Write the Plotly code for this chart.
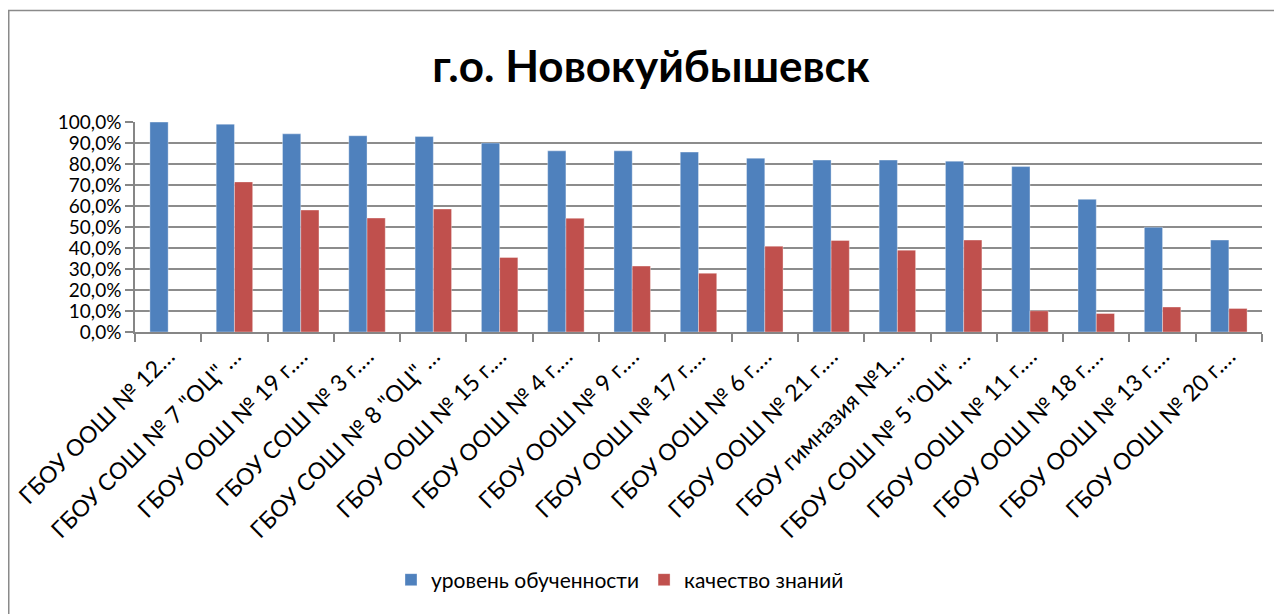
import plotly.graph_objects as go

FONT = 'Lato'
BLUE = '#4F81BD'
RED = '#C0504D'

schools = [
    'ГБОУ ООШ № 12…', 'ГБОУ СОШ № 7 "ОЦ" …', 'ГБОУ ООШ № 19 г.…',
    'ГБОУ СОШ № 3 г.…', 'ГБОУ СОШ № 8 "ОЦ" …', 'ГБОУ ООШ № 15 г.…',
    'ГБОУ ООШ № 4 г.…', 'ГБОУ ООШ № 9 г.…', 'ГБОУ ООШ № 17 г.…',
    'ГБОУ ООШ № 6 г.…', 'ГБОУ ООШ № 21 г.…', 'ГБОУ гимназия №1…',
    'ГБОУ СОШ № 5 "ОЦ" …', 'ГБОУ ООШ № 11 г.…', 'ГБОУ ООШ № 18 г.…',
    'ГБОУ ООШ № 13 г.…', 'ГБОУ ООШ № 20 г.…',
]
level = [1.000, 0.990, 0.944, 0.935, 0.931, 0.900, 0.863, 0.863, 0.857,
         0.828, 0.819, 0.819, 0.814, 0.788, 0.632, 0.499, 0.438]
quality = [None, 0.715, 0.581, 0.543, 0.586, 0.355, 0.542, 0.314, 0.280,
           0.409, 0.436, 0.390, 0.438, 0.101, 0.088, 0.119, 0.112]

# the page body adds an 8px margin, so the figure is 8px smaller than the window
W, H = 1274, 606
# plot area in figure pixels
L, R, T, B = 127, 1254, 114, 324
pw, ph = R - L, B - T

fig = go.Figure()
fig.add_trace(go.Bar(
    x=schools, y=level, name='уровень обученности',
    marker=dict(color=BLUE, line=dict(color='rgba(255,255,255,0.35)', width=1)),
))
fig.add_trace(go.Bar(
    x=schools, y=quality, name='качество знаний',
    marker=dict(color=RED, line=dict(color='rgba(255,255,255,0.35)', width=1)),
))

# chart frame
fig.add_shape(
    type='rect', xref='paper', yref='paper', layer='below',
    x0=(0.75 - L) / pw, x1=(1300 - L) / pw,
    y0=(B - 640) / ph, y1=1 + (T - 2.5) / ph,
    line=dict(color='#8a8a8a', width=1.5),
)

fig.update_layout(
    width=W, height=H,
    margin=dict(l=L, r=W - R, t=T, b=H - B),
    paper_bgcolor='white', plot_bgcolor='white',
    font=dict(family=FONT, color='black', size=19),
    separators=', ',
    barmode='group', bargap=0.45, bargroupgap=0,
    title=dict(text='<b>г.о. Новокуйбышевск</b>', x=643 / W, xanchor='center',
               y=1 - 59 / H, yanchor='middle', font=dict(size=44, family=FONT)),
    showlegend=True,
    legend=dict(orientation='h', x=(612 - L) / pw, xanchor='center',
                y=(B - 572) / ph, yanchor='middle', font=dict(size=21),
                itemwidth=30, tracegroupgap=0),
    xaxis=dict(
        tickangle=-45, tickson='boundaries', ticks='outside', ticklen=8,
        tickcolor='#868686', tickwidth=1.5, showline=True, linecolor='#868686',
        linewidth=1.5, showgrid=False, automargin=False,
        tickfont=dict(size=23),
    ),
    yaxis=dict(
        range=[0, 1.0005], dtick=0.1, tickformat='.1%', ticks='outside',
        ticklen=8, tickcolor='#868686', tickwidth=1.5, showline=True,
        linecolor='#868686', linewidth=1.5, gridcolor='#8c8c8c', gridwidth=1.5,
        zeroline=False, automargin=False, tickfont=dict(size=19),
    ),
)

fig.write_html('out.html')
